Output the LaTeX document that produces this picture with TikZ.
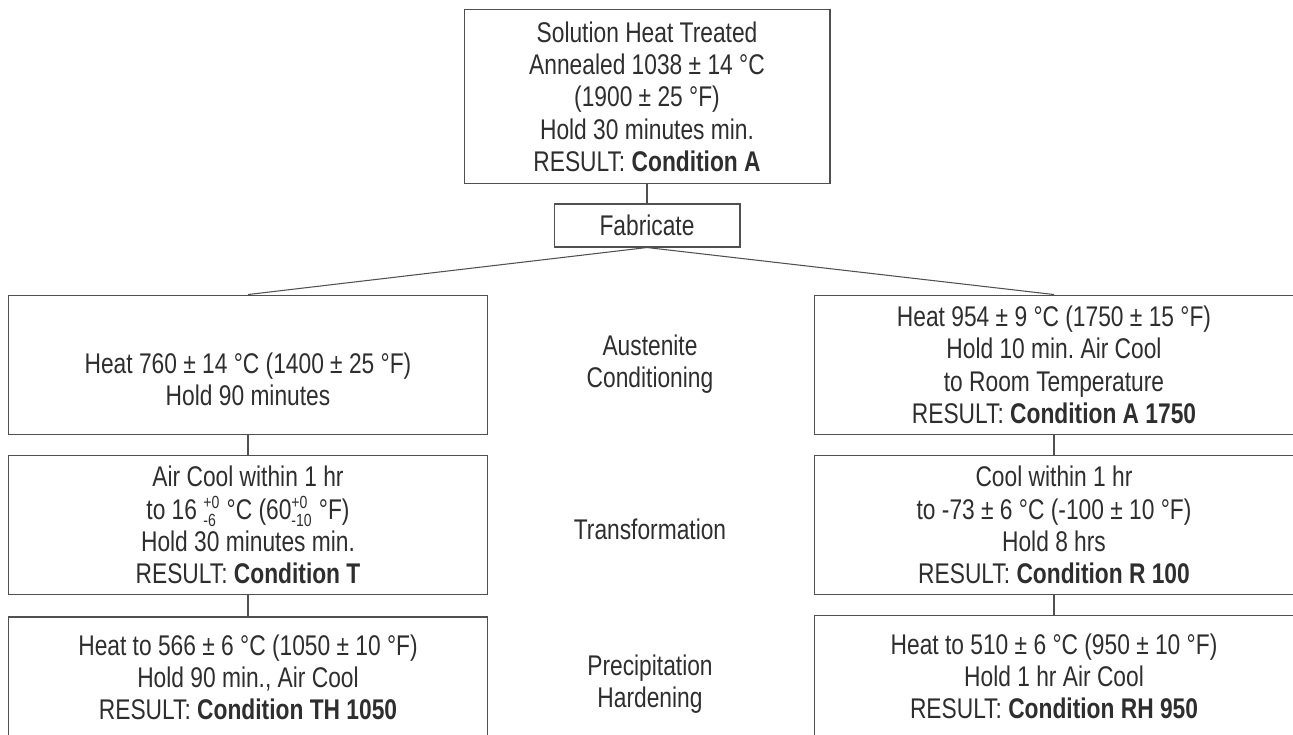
\documentclass[tikz,border=0pt]{standalone}
\usepackage{fontspec}
\setmainfont{Liberation Sans}[FakeStretch=0.8]
\definecolor{inkgray}{HTML}{2E2E2E}
\definecolor{linegray}{HTML}{505050}
\newcommand\tol[2]{\ensuremath{^{\hbox{\fontsize{10}{10}\selectfont #1}}_{\hbox{\fontsize{10}{10}\selectfont #2}}}}
\frenchspacing
\begin{document}
\begin{tikzpicture}[x=0.02cm,y=-0.02cm,
  every node/.style={font=\fontsize{16.2}{18.3}\selectfont, text=inkgray, align=center},
  stage/.style={draw=linegray, line width=0.6pt, inner sep=0pt},
  link/.style={draw=linegray, line width=0.6pt}]
\pgfmathsetlengthmacro\colwidth{9.6cm}
\useasboundingbox (0,0) rectangle (1293,734);
\clip (0,0) rectangle (1293,734);
\node[stage, minimum width=7.32cm, minimum height=3.49cm] (solution) at (647,96.7) {Solution Heat Treated\\Annealed 1038 ± 14 °C\\(1900 ± 25 °F)\\Hold 30 minutes min.\\RESULT: \textbf{Condition A}};
\node[stage, minimum width=3.72cm, minimum height=0.86cm] (fabricate) at (647,225.5) {Fabricate};
\node[stage, minimum width=\colwidth, minimum height=2.79cm] (heatL) at (248,364.8) {};
\node (heatLtext) at (248,379) {Heat 760 ± 14 °C (1400 ± 25 °F)\\Hold 90 minutes};
\node[stage, minimum width=\colwidth, minimum height=2.78cm] (coolL) at (248,525) {Air Cool within 1 hr\\to 16 \tol{+0}{-6} °C (60\tol{+0}{-10} °F)\\Hold 30 minutes min.\\RESULT: \textbf{Condition T}};
\node[stage, minimum width=\colwidth, minimum height=2.4cm] (ageL) at (248,677) {Heat to 566 ± 6 °C (1050 ± 10 °F)\\Hold 90 min., Air Cool\\RESULT: \textbf{Condition TH 1050}};
\node[stage, minimum width=\colwidth, minimum height=2.79cm] (heatR) at (1054,364.8) {Heat 954 ± 9 °C (1750 ± 15 °F)\\Hold 10 min. Air Cool\\to Room Temperature\\RESULT: \textbf{Condition A 1750}};
\node[stage, minimum width=\colwidth, minimum height=2.78cm] (coolR) at (1054,525) {Cool within 1 hr\\to -73 ± 6 °C (-100 ± 10 °F)\\Hold 8 hrs\\RESULT: \textbf{Condition R 100}};
\node[stage, minimum width=\colwidth, minimum height=2.44cm] (ageR) at (1054,676.5) {Heat to 510 ± 6 °C (950 ± 10 °F)\\Hold 1 hr Air Cool\\RESULT: \textbf{Condition RH 950}};
\node (austenite) at (650,364.5) {Austenite\\Conditioning};
\node (transform) at (650,529) {Transformation};
\node (precip) at (650,684.5) {Precipitation\\Hardening};
\draw[link] (solution.south) -- (fabricate.north);
\draw[link] (fabricate.south) -- (heatL.north);
\draw[link] (fabricate.south) -- (heatR.north);
\foreach \a/\b in {heatL/coolL,coolL/ageL,heatR/coolR,coolR/ageR}
  \draw[link] (\a.south) -- (\b.north);
\end{tikzpicture}
\end{document}
